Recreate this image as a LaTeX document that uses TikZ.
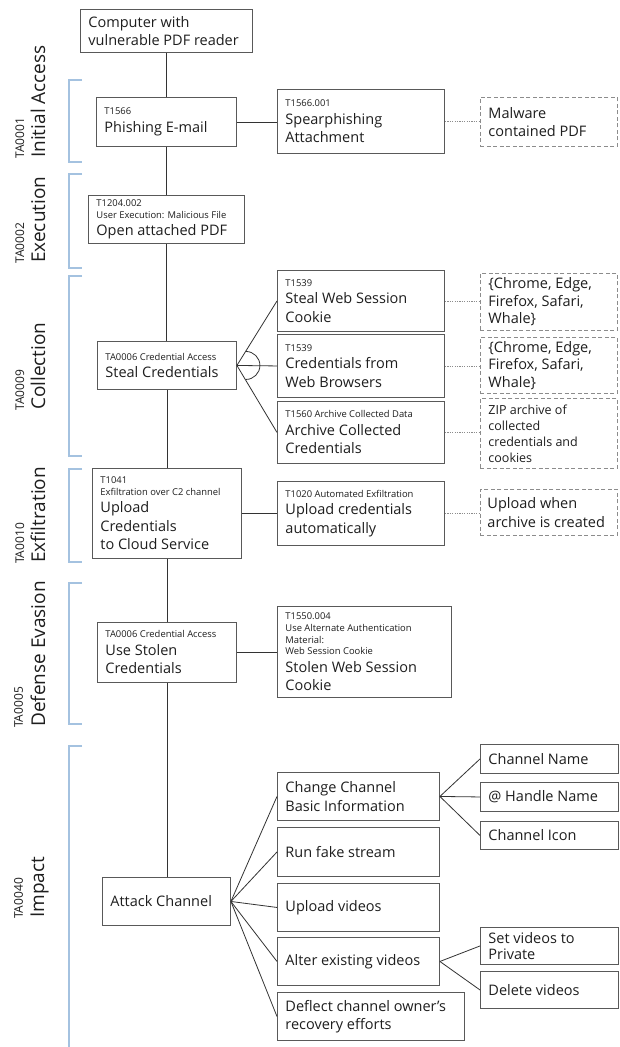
\documentclass[tikz,border=0pt]{standalone}
\usepackage{fontspec}
\setmainfont{Open Sans}
% font sizes used in the chart
\newcommand\smf{\fontsize{9.4}{11.6}\selectfont}
\newcommand\lgf{\fontsize{14.5}{18.5}\selectfont}
\newcommand\zipf{\fontsize{12.5}{16}\selectfont}
\newcommand\tacf{\fontsize{19}{22}\selectfont}
\newcommand\tidf{\fontsize{12}{14}\selectfont}
% small technique id line(s) above the main text of a box
\newcommand\code[1]{{\smf #1\par}\vspace{-1pt}}
\definecolor{ink}{HTML}{1E1E1E}
\definecolor{boxgray}{HTML}{595959}
\definecolor{linegray}{HTML}{333333}
\definecolor{dashgray}{HTML}{8C8C8C}
\definecolor{bracketblue}{HTML}{A4C2E0}
\begin{document}
\begin{tikzpicture}[x=1pt,y=-1pt,
  box/.style={draw=boxgray, line width=0.9pt, anchor=north west, inner xsep=8pt,
    inner ysep=0pt, align=flush left, font=\lgf, text=ink},
  dbox/.style={box, draw=dashgray, dash pattern=on 4pt off 2.5pt},
  link/.style={draw=linegray, line width=0.8pt},
  dotlink/.style={draw=dashgray, line width=0.8pt, dash pattern=on 1.2pt off 1.2pt},
  bracket/.style={draw=bracketblue, line width=1.2pt},
  tacname/.style={rotate=90, anchor=base west, inner sep=0pt, font=\tacf, text=ink},
  tacid/.style={rotate=90, anchor=base west, inner sep=0pt, font=\tidf, text=ink}]
\useasboundingbox[fill=white] (0,0) rectangle (619,1047);

% ---- tactic brackets and labels ----
\draw[bracket] (82,80) -- (69,80) -- (69,162) -- (82,162);
\draw[bracket] (82,174) -- (69,174) -- (69,268) -- (82,268);
\draw[bracket] (82,276) -- (69,276) -- (69,456) -- (82,456);
\draw[bracket] (82,469) -- (69,469) -- (69,562) -- (82,562);
\draw[bracket] (82,583) -- (69,583) -- (69,724) -- (82,724);
\draw[bracket] (82,746) -- (69,746) -- (69,1047);

\node[tacid] (id1) at (24,159) {TA0001};
\node[tacname] (nm1) at (45,158) {Initial Access};
\node[tacid] (id2) at (24,264) {TA0002};
\node[tacname] (nm2) at (45,263) {Execution};
\node[tacid] (id3) at (24,411) {TA0009};
\node[tacname] (nm3) at (45,410) {Collection};
\node[tacid] (id4) at (24,564) {TA0010};
\node[tacname] (nm4) at (45,563) {Exfiltration};
\node[tacid] (id5) at (23,728) {TA0005};
\node[tacname] (nm5) at (45,727) {Defense Evasion};
\node[tacid] (id6) at (23,919) {TA0040};
\node[tacname] (nm6) at (44,918) {Impact};

% ---- main chain ----
\node[box, minimum width=172pt, minimum height=43pt, text width=156pt] (comp) at (80,9)
  {Computer with\\vulnerable PDF reader};
\node[box, minimum width=140pt, minimum height=49pt, text width=124pt] (phish) at (96,97)
  {\code{T1566}Phishing E-mail};
\node[box, minimum width=156pt, minimum height=48pt, text width=140pt] (openpdf) at (88,195)
  {\code{T1204.002\\User Execution: Malicious File}Open attached PDF};
\node[box, minimum width=139pt, minimum height=48pt, text width=123pt] (steal) at (97,341)
  {\code{TA0006 Credential Access}Steal Credentials};
\node[box, minimum width=149pt, minimum height=90pt, text width=133pt] (upload) at (92,468)
  {\code{T1041\\Exfiltration over C2 channel}Upload\\Credentials\\to Cloud Service};
\node[box, minimum width=139pt, minimum height=60pt, text width=123pt] (usestolen) at (97,622)
  {\code{TA0006 Credential Access}Use Stolen\\Credentials};
\node[box, minimum width=128pt, minimum height=48pt, text width=112pt] (attack) at (102,877)
  {Attack Channel};

\draw[link] (comp.south) -- (comp.south |- phish.north);
\draw[link] (phish.south) -- (phish.south |- openpdf.north);
\draw[link] (openpdf.south) -- (openpdf.south |- steal.north);
\draw[link] (steal.south) -- (steal.south |- upload.north);
\draw[link] (upload.south) -- (upload.south |- usestolen.north);
\draw[link] (usestolen.south) -- (usestolen.south |- attack.north);

% ---- initial access ----
\node[box, minimum width=167pt, minimum height=64pt, text width=151pt] (spear) at (277,89)
  {\code{T1566.001}Spearphishing\\Attachment};
\node[dbox, minimum width=137pt, minimum height=49pt, text width=121pt] (malpdf) at (480,97)
  {Malware\\contained PDF};
\draw[link] (phish.east) -- (phish.east -| spear.west);
\draw[dotlink] (spear.east) -- (spear.east -| malpdf.west);

% ---- collection ----
\node[box, minimum width=167pt, minimum height=61pt, text width=151pt] (cookie) at (277,270)
  {\code{T1539}Steal Web Session\\Cookie};
\node[box, minimum width=167pt, minimum height=63pt, text width=151pt] (browsers) at (277,334)
  {\code{T1539}Credentials from\\Web Browsers};
\node[box, minimum width=167pt, minimum height=62pt, text width=151pt] (archive) at (277,401)
  {\code{T1560 Archive Collected Data}Archive Collected\\Credentials};
\node[dbox, minimum width=137pt, minimum height=57pt, text width=121pt,
  font=\fontsize{14.5}{17.5}\selectfont] (br1) at (480,273)
  {\{Chrome, Edge,\\Firefox, Safari,\\Whale\}};
\node[dbox, minimum width=137pt, minimum height=56pt, text width=121pt,
  font=\fontsize{14.5}{17.5}\selectfont] (br2) at (480,337)
  {\{Chrome, Edge,\\Firefox, Safari,\\Whale\}};
\node[dbox, minimum width=137pt, minimum height=70pt, text width=121pt, font=\zipf] (zip) at (480,398)
  {ZIP archive of\\collected\\credentials and\\cookies};
\draw[link] (steal.east) -- (cookie.west);
\draw[link] (steal.east) -- (browsers.west);
\draw[link] (steal.east) -- (archive.west);
\draw[link] ([xshift=9pt,yshift=14pt]steal.east) arc[start angle=90, end angle=-90, radius=14pt];
\draw[dotlink] (cookie.east) -- (cookie.east -| br1.west);
\draw[dotlink] (browsers.east) -- (browsers.east -| br2.west);
\draw[dotlink] (archive.east) -- (archive.east -| zip.west);

% ---- exfiltration ----
\node[box, minimum width=167pt, minimum height=64pt, text width=151pt] (auto) at (277,481)
  {\code{T1020 Automated Exfiltration}Upload credentials\\automatically};
\node[dbox, minimum width=137pt, minimum height=46pt, text width=123pt, inner xsep=7pt] (whenarch) at (480,489)
  {Upload when\\archive is created};
\draw[link] (upload.east) -- (upload.east -| auto.west);
\draw[dotlink] (auto.east) -- (auto.east -| whenarch.west);

% ---- defense evasion ----
\node[box, minimum width=174pt, minimum height=91pt, text width=158pt] (stolencookie) at (277,606)
  {\code{T1550.004\\Use Alternate Authentication\\Material:\\Web Session Cookie}Stolen Web Session\\Cookie};
\draw[link] (usestolen.east) -- (usestolen.east -| stolencookie.west);

% ---- impact ----
\node[box, minimum width=162pt, minimum height=48pt, text width=146pt] (change) at (277,772)
  {Change Channel\\Basic Information};
\node[box, minimum width=162pt, minimum height=49pt, text width=146pt] (fake) at (277,827)
  {Run fake stream};
\node[box, minimum width=162pt, minimum height=48pt, text width=146pt] (videos) at (277,883)
  {Upload videos};
\node[box, minimum width=162pt, minimum height=48pt, text width=146pt] (alter) at (277,937)
  {Alter existing videos};
\node[box, minimum width=187pt, minimum height=48pt, text width=171pt] (deflect) at (277,992)
  {Deflect channel owner’s\\recovery efforts};
\draw[link] (attack.east) -- (change.west);
\draw[link] (attack.east) -- (fake.west);
\draw[link] (attack.east) -- (videos.west);
\draw[link] (attack.east) -- (alter.west);
\draw[link] (attack.east) -- (deflect.west);

\node[box, minimum width=138pt, minimum height=29pt, text width=122pt] (cname) at (480,744)
  {Channel Name};
\node[box, minimum width=138pt, minimum height=29pt, text width=122pt] (handle) at (480,782)
  {@ Handle Name};
\node[box, minimum width=138pt, minimum height=28pt, text width=122pt] (icon) at (480,821)
  {Channel Icon};
\node[box, minimum width=138pt, minimum height=37pt, text width=122pt,
  font=\fontsize{14.5}{16.5}\selectfont] (private) at (480,927)
  {Set videos to\\Private};
\node[box, minimum width=138pt, minimum height=37pt, text width=122pt] (delete) at (480,971)
  {Delete videos};
\draw[link] (change.east) -- (cname.west);
\draw[link] (change.east) -- (handle.west);
\draw[link] (change.east) -- (icon.west);
\draw[link] (alter.east) -- (private.west);
\draw[link] (alter.east) -- (delete.west);
\end{tikzpicture}
\end{document}
